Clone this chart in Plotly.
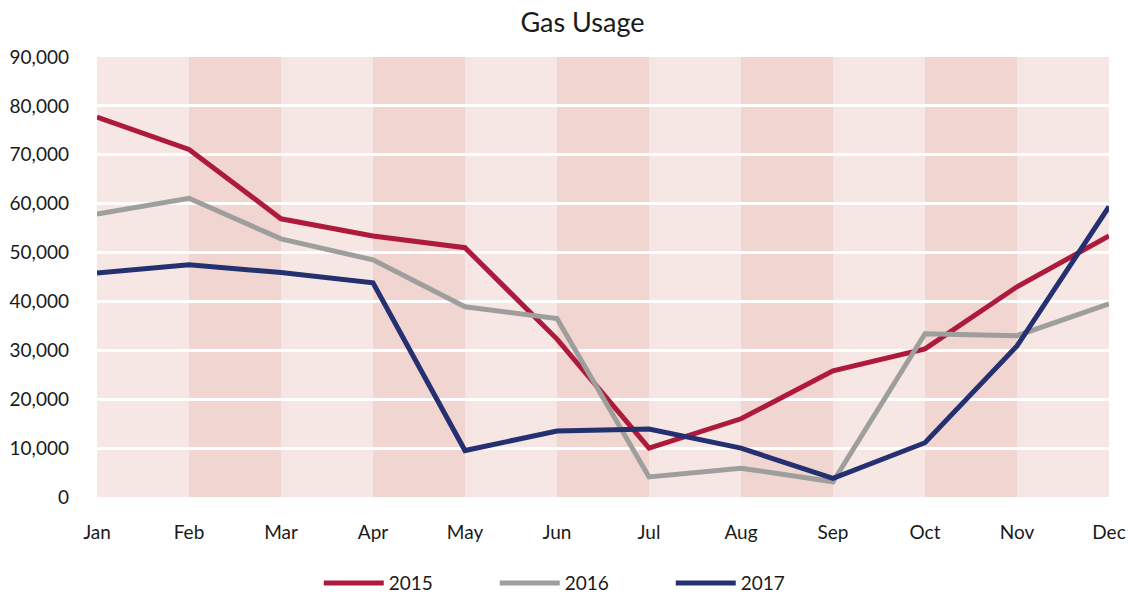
import plotly.graph_objects as go

months = ["Jan", "Feb", "Mar", "Apr", "May", "Jun", "Jul", "Aug", "Sep", "Oct", "Nov", "Dec"]
usage_2015 = [77700, 71100, 56900, 53400, 51000, 32300, 10000, 16000, 25800, 30300, 43000, 53400]
usage_2016 = [57900, 61100, 52800, 48500, 38900, 36500, 4100, 5900, 3100, 33400, 33000, 39500]
usage_2017 = [45800, 47500, 45900, 43800, 9500, 13500, 13900, 10000, 3800, 11100, 30900, 59400]
y_ticks = [0, 10000, 20000, 30000, 40000, 50000, 60000, 70000, 80000, 90000]

FONT = "Lato, 'Open Sans', sans-serif"
TXT = "#1a1a1a"

fig = go.Figure()
series = [("2015", usage_2015, "#ae1a3b"), ("2016", usage_2016, "#9e9e9c"), ("2017", usage_2017, "#24306f")]
for name, vals, col in series:
    fig.add_trace(go.Scatter(x=months, y=vals, mode="lines", name=name,
                             line=dict(color=col, width=5)))

shapes = []
for i in range(len(months) - 1):
    shapes.append(dict(type="rect", xref="x", yref="y", x0=i, x1=i + 1, y0=0, y1=90000,
                       fillcolor="#f0d5d1" if i % 2 == 1 else "#f6e7e4",
                       line=dict(width=0), layer="below"))

fig.update_layout(
    width=1131, height=598,
    margin=dict(l=97, r=22, t=57, b=101),
    paper_bgcolor="white", plot_bgcolor="white",
    font=dict(family=FONT, size=19, color=TXT),
    title=dict(text="Gas Usage", x=0.515, xanchor="center", y=0.963, yanchor="middle",
               font=dict(family=FONT, size=27, color=TXT)),
    shapes=shapes,
    showlegend=True,
    legend=dict(orientation="h", x=0.48, xanchor="center", yref="container",
                y=0.025, yanchor="middle",
                font=dict(size=19, color=TXT), entrywidth=101, entrywidthmode="pixels",
                itemwidth=60, traceorder="normal"),
    xaxis=dict(type="category", categoryorder="array", categoryarray=months,
               range=[0, 11], showgrid=False, zeroline=False, showline=False, automargin=False,
               ticks="", ticklabelstandoff=22, tickfont=dict(size=19, color=TXT)),
    yaxis=dict(range=[0, 90000], tickvals=y_ticks, tickformat=",d", automargin=False,
               showgrid=True, gridcolor="white", gridwidth=2.5, zeroline=False,
               showline=False, ticks="", ticklabelstandoff=27,
               tickfont=dict(size=19, color=TXT)),
)

fig.write_html("out.html", config={"displayModeBar": False},
               post_script="document.body.style.margin='0';")
